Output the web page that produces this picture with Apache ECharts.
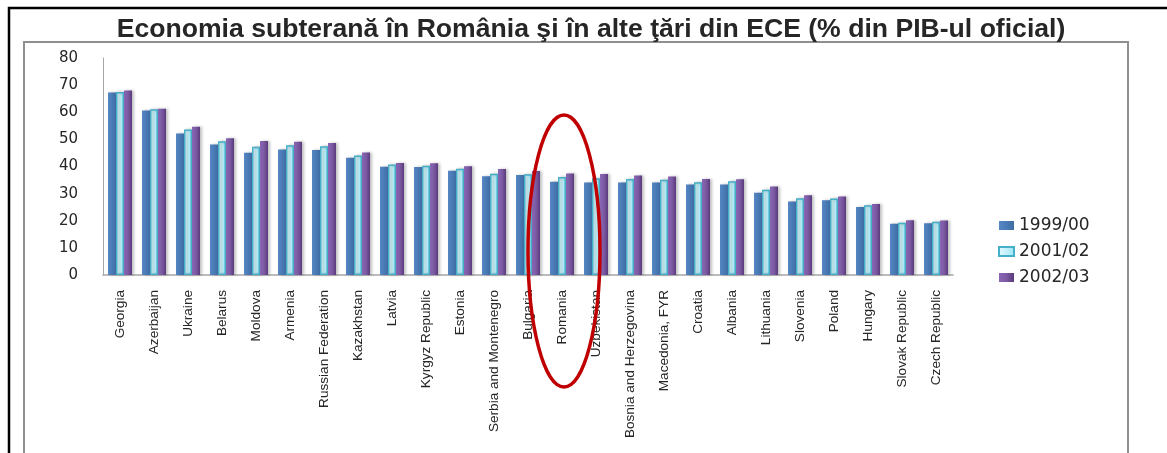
<!DOCTYPE html>
<html>
<head>
<meta charset="utf-8">
<script src="https://cdn.jsdelivr.net/npm/echarts@6/dist/echarts.min.js"></script>
<style>
html,body{margin:0;padding:0;background:#fff;}
#chart{width:1167px;height:453px;}
</style>
</head>
<body>
<div id="chart"></div>
<script>
const titleText = 'Economia subterană în România şi în alte ţări din ECE (% din PIB-ul oficial)';
const countries = ['Georgia','Azerbaijan','Ukraine','Belarus','Moldova','Armenia','Russian Federation','Kazakhstan','Latvia','Kyrgyz Republic','Estonia','Serbia and Montenegro','Bulgaria','Romania','Uzbekistan','Bosnia and Herzegovina','Macedonia, FYR','Croatia','Albania','Lithuania','Slovenia','Poland','Hungary','Slovak Republic','Czech Republic'];
const seriesNames = ['1999/00','2001/02','2002/03'];
const v1999 = [67.3,60.6,52.2,48.1,45.1,46.3,46.1,43.2,39.9,39.8,38.4,36.4,36.9,34.4,34.1,34.1,34.1,33.4,33.4,30.3,27.1,27.6,25.1,18.9,19.1];
const v2001 = [67.5,61.1,53.6,49.3,47.3,47.8,47.5,44.1,40.7,40.3,39.2,37.3,37.1,36.1,35.7,35.4,35.1,34.2,34.6,31.4,28.3,28.2,25.7,19.3,19.6];
const v2002 = [68.0,61.3,54.7,50.4,49.4,49.1,48.7,45.2,41.3,41.2,40.1,39.1,38.3,37.4,37.2,36.7,36.3,35.4,35.3,32.6,29.4,28.9,26.2,20.2,20.1];
const yTicks = [0,10,20,30,40,50,60,70,80];
const highlighted = 'Romania';

const chart = echarts.init(document.getElementById('chart'), null, {renderer:'canvas'});

function grad(stops){
  return new echarts.graphic.LinearGradient(0,0,1,0, stops.map((c,i)=>({offset:i/(stops.length-1), color:c})));
}
const shadow = {shadowBlur:3, shadowColor:'rgba(0,0,0,0.25)', shadowOffsetX:2, shadowOffsetY:0};
const frame = [
  {type:'polyline', z:1, shape:{points:[[24,460],[24,42],[1128,42],[1128,460]]}, style:{stroke:'#8f8f8f', lineWidth:2, fill:null}},
  {type:'polyline', z:1, shape:{points:[[9,460],[9,8],[1170,8]]}, style:{stroke:'#000000', lineWidth:2.5, fill:null}}
];

const option = {
  animation:false,
  backgroundColor:'#ffffff',
  title:{
    text:titleText,
    left:586, top:11, textAlign:'center',
    textStyle:{fontFamily:'Liberation Sans, Arial, sans-serif', fontWeight:'bold', fontSize:26.6, color:'#262626'}
  },
  legend:{
    orient:'vertical', left:993, top:212,
    icon:'rect',
    itemWidth:15, itemHeight:9, itemGap:9,
    textStyle:{fontFamily:'DejaVu Sans, Verdana, sans-serif', fontSize:17, color:'#262626'},
    data:seriesNames
  },
  grid:{left:103, top:58, right:214, bottom:178, containLabel:false, outerBoundsMode:'none'},
  xAxis:{
    type:'category', data:countries,
    axisLine:{lineStyle:{color:'#a6a6a6', width:1.5}},
    axisTick:{show:false},
    axisLabel:{rotate:90, margin:15, interval:0, fontFamily:'Liberation Sans, Arial, sans-serif', fontSize:13.6, color:'#262626'}
  },
  yAxis:{
    type:'value', min:0, max:80, interval:10,
    axisLine:{show:true, lineStyle:{color:'#a6a6a6', width:1}},
    axisTick:{show:false},
    splitLine:{show:false},
    axisLabel:{margin:25, fontFamily:'DejaVu Sans, Verdana, sans-serif', fontSize:15, color:'#262626',
      formatter:v=>yTicks.includes(v)?String(v):''}
  },
  series:[
    {name:seriesNames[0], type:'bar', data:v1999, barWidth:8, barGap:'0%',
      itemStyle:Object.assign({color:grad(['#5687c4','#4a7bb6','#3f6ca4'])}, shadow)},
    {name:seriesNames[1], type:'bar', data:v2001, barWidth:8, barGap:'0%',
      itemStyle:Object.assign({color:grad(['#e6f9fd','#c4f1fa','#98e4f4']), borderColor:'#46b0c9', borderWidth:1.5}, shadow)},
    {name:seriesNames[2], type:'bar', data:v2002, barWidth:8, barGap:'0%',
      itemStyle:Object.assign({color:grad(['#8a66b4','#7b5aa3','#5a3a7c'])}, shadow)}
  ],
  graphic:frame
};
chart.setOption(option);

// annotation ellipse around the highlighted category, positioned from the axis scales
const cx = chart.convertToPixel({xAxisIndex:0}, highlighted);
const y0 = chart.convertToPixel({yAxisIndex:0}, 0);
const ry = 136;
chart.setOption({graphic:frame.concat([
  {type:'ellipse', z:100, shape:{cx:cx+2, cy:y0+112-ry, rx:36, ry:ry}, style:{stroke:'#c00000', lineWidth:3.5, fill:null}}
])});
</script>
</body>
</html>
